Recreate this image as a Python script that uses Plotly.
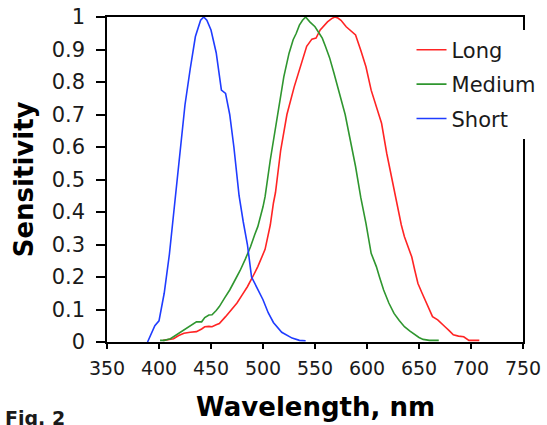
import plotly.graph_objects as go

# Wavelength (nm) and sensitivity
short_nm = [389, 392, 396, 400, 405, 410, 415, 420, 425, 430, 435, 440, 443, 446, 450,
            455, 460, 464, 468, 472, 477, 481, 485, 489, 494, 500, 505, 510, 518, 528, 535, 541]
short_s = [0.0, 0.02, 0.05, 0.065, 0.15, 0.27, 0.42, 0.58, 0.73, 0.84, 0.94, 0.99, 1.0, 0.99, 0.96,
           0.89, 0.775, 0.765, 0.70, 0.60, 0.45, 0.37, 0.30, 0.20, 0.17, 0.13, 0.09, 0.06, 0.03, 0.012, 0.005, 0.004]

medium_nm = [401, 405, 411, 416, 421, 425, 429, 433, 436, 441, 444, 448, 451, 455, 458, 463, 468,
             473, 478, 483, 488, 492, 495, 500, 502, 507, 511, 515, 520, 525, 529, 532, 535, 538,
             541, 545, 550, 554, 557, 560, 564, 568, 572, 576, 579, 584, 589, 594, 599, 604, 609,
             612, 616, 621, 626, 631, 636, 641, 646, 650, 654, 660, 669]
medium_s = [0.005, 0.005, 0.01, 0.02, 0.03, 0.04, 0.047, 0.055, 0.062, 0.062, 0.075, 0.083, 0.084,
            0.097, 0.109, 0.135, 0.16, 0.19, 0.22, 0.255, 0.293, 0.33, 0.355, 0.416, 0.447, 0.56,
            0.64, 0.714, 0.816, 0.888, 0.93, 0.95, 0.975, 0.99, 1.0, 0.985, 0.97, 0.95, 0.935,
            0.91, 0.875, 0.83, 0.785, 0.74, 0.70, 0.62, 0.54, 0.445, 0.365, 0.273, 0.232, 0.20,
            0.16, 0.12, 0.088, 0.066, 0.047, 0.034, 0.022, 0.014, 0.008, 0.005, 0.005]

long_nm = [404, 409, 414, 419, 424, 430, 436, 441, 444, 448, 451, 455, 458, 464, 469, 475, 480,
           485, 490, 495, 502, 507, 510, 512, 517, 523, 530, 537, 542, 547, 551, 555, 559, 562,
           566, 569, 572, 575, 580, 585, 589, 594, 599, 604, 609, 614, 619, 624, 627, 629, 633,
           636, 640, 643, 646, 649, 653, 656, 660, 663, 668, 671, 675, 679, 683, 688, 693, 698, 703, 708]
long_s = [0.005, 0.007, 0.01, 0.02, 0.027, 0.03, 0.032, 0.04, 0.047, 0.048, 0.047, 0.053, 0.057,
          0.078, 0.097, 0.12, 0.145, 0.17, 0.2, 0.232, 0.285, 0.36, 0.427, 0.46, 0.59, 0.70,
          0.785, 0.86, 0.91, 0.932, 0.935, 0.96, 0.975, 0.985, 0.995, 1.0, 0.997, 0.99, 0.97,
          0.955, 0.945, 0.898, 0.847, 0.775, 0.724, 0.673, 0.58, 0.50, 0.447, 0.416, 0.36,
          0.324, 0.29, 0.262, 0.22, 0.18, 0.15, 0.129, 0.10, 0.078, 0.068, 0.058, 0.047,
          0.035, 0.022, 0.018, 0.016, 0.005, 0.005, 0.005]

x_ticks = [350, 400, 450, 500, 550, 600, 650, 700, 750]
y_ticks = [0, 0.1, 0.2, 0.3, 0.4, 0.5, 0.6, 0.7, 0.8, 0.9, 1]
y_tick_text = ["0", "0.1", "0.2", "0.3", "0.4", "0.5", "0.6", "0.7", "0.8", "0.9", "1"]

series = [
    ("Long", long_nm, long_s, "#ff2424"),
    ("Medium", medium_nm, medium_s, "#2f962f"),
    ("Short", short_nm, short_s, "#1f3cff"),
]

fig = go.Figure()
for name, xs, ys, col in series:
    fig.add_trace(go.Scatter(x=xs, y=ys, mode="lines", name=name, legendgroup=name,
                             line=dict(color=col, width=1.6)))

font_family = "DejaVu Sans, Verdana, sans-serif"

fig.update_layout(
    width=547, height=425,
    margin=dict(l=107, r=24, t=17, b=83, autoexpand=False),
    paper_bgcolor="white", plot_bgcolor="white",
    font=dict(family=font_family, color="#1a1a1a"),
    showlegend=True,
    legend=dict(x=0.732, y=0.961, xanchor="left", yanchor="top",
                bgcolor="white", borderwidth=0,
                font=dict(size=21, family=font_family, color="#1a1a1a"),
                traceorder="grouped", tracegroupgap=4),
    xaxis=dict(range=[350, 750], tickvals=x_ticks, ticks="outside", ticklen=5,
               tickwidth=1.5, tickcolor="black", showline=True, linecolor="black",
               linewidth=1.5, mirror=True, showgrid=False, zeroline=False,
               automargin=False, ticklabelstandoff=3,
               tickfont=dict(size=19, color="#1a1a1a")),
    yaxis=dict(range=[0, 1], tickvals=y_ticks, ticktext=y_tick_text, ticks="outside",
               ticklen=9, tickwidth=1.5, tickcolor="black", showline=True,
               linecolor="black", linewidth=1.5, mirror=True, showgrid=False,
               zeroline=False, automargin=False, ticklabelstandoff=7,
               tickfont=dict(size=21, color="#1a1a1a")),
    annotations=[
        dict(text="<b>Wavelength, nm</b>", xref="paper", yref="paper", x=0.5, y=-0.2,
             xanchor="center", yanchor="middle", showarrow=False,
             font=dict(size=26, color="black", family=font_family)),
        dict(text="<b>Sensitivity</b>", xref="paper", yref="paper", x=-0.2, y=0.5,
             xanchor="center", yanchor="middle", showarrow=False, textangle=-90,
             font=dict(size=26, color="black", family=font_family)),
        dict(text="<b>Fig. 2</b>", xref="paper", yref="paper", x=-0.25, y=-0.194,
             xanchor="left", yanchor="top", showarrow=False,
             font=dict(size=19, color="#1a1a1a", family=font_family)),
    ],
)

fig.write_html("out.html", config={"displayModeBar": False},
               post_script="document.body.style.margin='0';document.body.style.overflow='hidden';")
